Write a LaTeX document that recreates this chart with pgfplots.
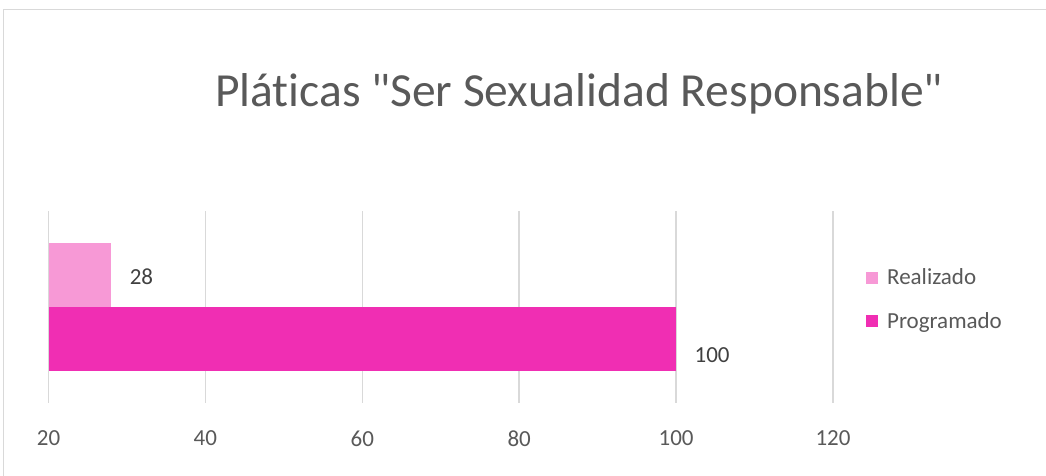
\documentclass[border=0pt]{standalone}
\usepackage{pgfplots}
\pgfplotsset{compat=1.18}
\usepackage{fontspec}
\setmainfont{Carlito}[Ligatures={TeXOff,NoCommon}]
\definecolor{lightpink}{HTML}{F799D6}
\definecolor{magenta2}{HTML}{F02EB3}
\definecolor{txtgray}{HTML}{595959}
\definecolor{gridgray}{HTML}{D9D9D9}
\begin{document}
\begin{tikzpicture}[x=1pt,y=1pt]
\path[use as bounding box] (0,0) rectangle (1046,476);
\draw[gridgray,line width=1.2pt] (3.5,0) -- (3.5,466.5) -- (1046,466.5);
\node[txtgray,font=\fontsize{47.5}{54}\selectfont] at (579,382) {Pláticas "Ser Sexualidad Responsable"};
\begin{axis}[
  at={(48.5pt,73pt)}, anchor=south west,
  scale only axis, width=784.5pt, height=192pt,
  xmin=20, xmax=120, ymin=0, ymax=1,
  xtick={20,40,60,80,100,120},
  ytick=\empty,
  axis line style={draw=none},
  major tick length=0pt,
  xmajorgrids, major grid style={gridgray,line width=1.6pt},
  tick label style={txtgray,font=\fontsize{23}{27}\selectfont},
  xticklabel style={yshift=-24pt},
  /pgf/number format/assume math mode=true,
  xbar, bar width=64pt, bar shift=0pt,
  nodes near coords,
  every node near coord/.append style={font=\fontsize{23}{27}\selectfont, text={rgb,255:red,64;green,64;blue,64}, anchor=west, xshift=15pt},
  legend style={draw=none, at={(rel axis cs:1.042,0.54)}, anchor=west, inner sep=0pt,
    font=\fontsize{23}{27}\selectfont, text=txtgray, row sep=22pt, cells={anchor=west}},
  legend image code/.code={\fill[#1] (0pt,-6pt) rectangle (12pt,6pt);},
  legend cell align=left,
  clip=true,
]
\addplot[draw=none, fill=lightpink, every node near coord/.append style={yshift=-2pt}] coordinates {(28,0.6667)};
\addlegendentry{\hspace{7pt}Realizado}
\addplot[draw=none, fill=magenta2, every node near coord/.append style={yshift=-16pt}] coordinates {(100,0.3333)};
\addlegendentry{\hspace{7pt}Programado}
\end{axis}
\end{tikzpicture}
\end{document}
